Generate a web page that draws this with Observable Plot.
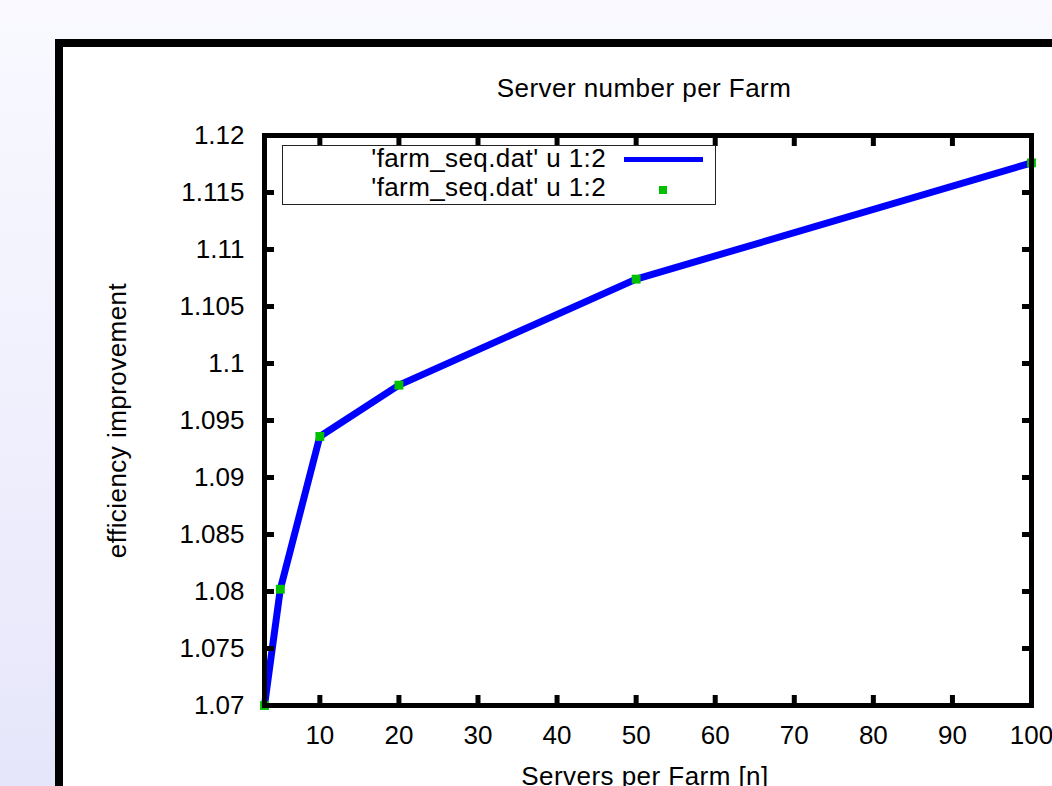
<!DOCTYPE html>
<html>
<head>
<meta charset="utf-8">
<script src="https://cdn.jsdelivr.net/npm/d3@7"></script>
<script src="https://cdn.jsdelivr.net/npm/@observablehq/plot@0.6"></script>
<style>
  html, body { margin: 0; padding: 0; }
  body {
    width: 1052px; height: 786px; overflow: hidden; position: relative;
    background: linear-gradient(to bottom, #f9f9ff 0%, #f2f2fe 40%, #e6e6fa 100%);
    font-family: "Liberation Sans", Arial, sans-serif;
  }
  #sheet {
    position: absolute; left: 55px; top: 39px; width: 1100px; height: 900px;
    background: #fff; border: 8px solid #000; box-sizing: border-box;
  }
  #chart { position: absolute; left: 0; top: 0; }
  #chart g[aria-label="text"] text { letter-spacing: 0.45px; }
  #legend {
    position: absolute; left: 282px; top: 145px; width: 434px; height: 60px;
    border: 1px solid #222; box-sizing: border-box; background: #fff;
    font-size: 26px; color: #000; letter-spacing: 0.4px;
  }
  .lrow { position: absolute; left: 0; width: 323px; text-align: right; line-height: 29px; white-space: pre; }
  .lline { position: absolute; left: 341px; width: 79px; height: 5px; background: #0000ff; }
  .lsq { position: absolute; left: 376px; width: 8px; height: 8px; background: #00c000; }
</style>
</head>
<body>
<div id="sheet"></div>
<div id="chart"></div>
<div id="legend"></div>
<script>
// Data
const serversPerFarm = [3, 5, 10, 20, 50, 100];
const efficiency = [1.0700, 1.0802, 1.0936, 1.0981, 1.1074, 1.1176];
const xTicks = [10, 20, 30, 40, 50, 60, 70, 80, 90, 100];
const yTicks = [1.07, 1.075, 1.08, 1.085, 1.09, 1.095, 1.1, 1.105, 1.11, 1.115, 1.12];
const legendLabels = ["'farm_seq.dat' u 1:2", "'farm_seq.dat' u 1:2"];
const titleText = "Server number per Farm";
const xLabel = "Servers per Farm [n]";
const yLabel = "efficiency improvement";

const data = serversPerFarm.map((x, i) => ({x, y: efficiency[i]}));
const yFmt = d => String(+d.toFixed(3));

const plot = Plot.plot({
  width: 1052,
  height: 786,
  marginLeft: 264,
  marginRight: 21,
  marginTop: 135,
  marginBottom: 81,
  style: {background: "transparent", fontFamily: "'Liberation Sans', Arial, sans-serif", fontSize: "26px", color: "#000", overflow: "visible"},
  x: {domain: [3, 100]},
  y: {domain: [1.07, 1.12]},
  marks: [
    Plot.line(data, {x: "x", y: "y", stroke: "#0000ff", strokeWidth: 7}),
    Plot.dot(data, {x: "x", y: "y", symbol: "square", fill: "#00c000", r: 5}),
    // tick labels
    Plot.axisX({anchor: "bottom", ticks: xTicks, tickSize: 0, tickPadding: 20, label: null, fontSize: 26}),
    Plot.axisY({anchor: "left", ticks: yTicks, tickSize: 0, tickPadding: 20, tickFormat: yFmt, label: null, fontSize: 26}),
    // inward ticks on all four sides
    Plot.axisX({anchor: "bottom", ticks: xTicks, tickSize: -10, strokeWidth: 5, tickFormat: () => "", label: null}),
    Plot.axisX({anchor: "top", ticks: xTicks, tickSize: -10, strokeWidth: 5, tickFormat: () => "", label: null}),
    Plot.axisY({anchor: "left", ticks: yTicks, tickSize: -10, strokeWidth: 5, tickFormat: () => "", label: null}),
    Plot.axisY({anchor: "right", ticks: yTicks, tickSize: -10, strokeWidth: 5, tickFormat: () => "", label: null}),
    Plot.frame({stroke: "#000", strokeWidth: 5}),
    // title and axis labels
    Plot.text([titleText], {frameAnchor: "top", dy: -47, dx: -4, textAnchor: "middle", lineAnchor: "middle", fontSize: 26, fill: "#000"}),
    Plot.text([xLabel], {frameAnchor: "bottom", dy: 71, dx: -3, textAnchor: "middle", lineAnchor: "middle", fontSize: 26, fill: "#000"}),
    Plot.text([yLabel], {frameAnchor: "left", dx: -147, rotate: -90, textAnchor: "middle", lineAnchor: "middle", fontSize: 26, fill: "#000"})
  ]
});
document.getElementById("chart").appendChild(plot);

// Legend (gnuplot key)
const legend = document.getElementById("legend");
legendLabels.forEach((t, i) => {
  const row = document.createElement("div");
  row.className = "lrow";
  row.style.top = (-2 + i * 29) + "px";
  row.textContent = t;
  legend.appendChild(row);
});
const ln = document.createElement("div");
ln.className = "lline"; ln.style.top = "11px";
legend.appendChild(ln);
const sq = document.createElement("div");
sq.className = "lsq"; sq.style.top = "40px";
legend.appendChild(sq);
</script>
</body>
</html>
